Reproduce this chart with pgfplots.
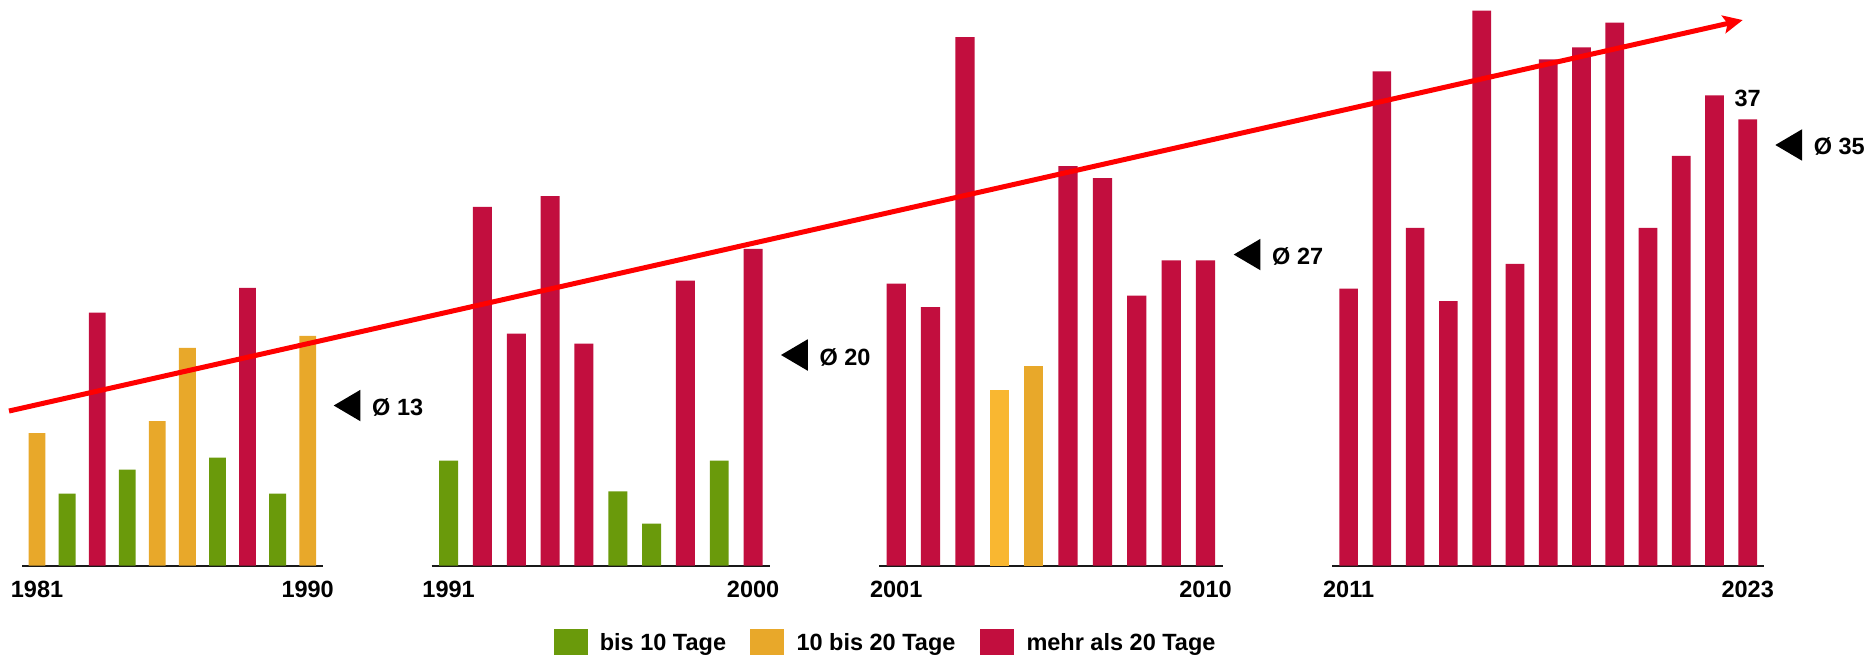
\documentclass[border=0pt]{standalone}
\usepackage{pgfplots}
\pgfplotsset{compat=1.18}
\usepackage{fontspec}
\setmainfont{Liberation Sans}
\usetikzlibrary{arrows.meta}

\definecolor{cgreen}{HTML}{6A9A0B}
\definecolor{corange}{HTML}{E8A82A}
\definecolor{cyellow}{HTML}{F9B731}
\definecolor{ccrimson}{HTML}{C20E3E}
\definecolor{cred}{HTML}{FF0000}

\newcommand{\lab}{\bfseries\fontsize{9.4}{11}\selectfont}

\pgfplotsset{
  grp/.style={
    scale only axis, height=226.28pt,
    anchor=south west,
    ymin=0, ymax=47.142,
    enlarge x limits=false, enlarge y limits=false,
    axis x line=bottom, axis y line=none,
    axis line style={-, line width=0.7pt, black!90},
    major tick length=0pt, ytick=\empty,
    xticklabel style={font=\lab, anchor=base, yshift=-12.8pt},
    ybar, bar width=0.56, bar shift=0pt,
    clip=false,
  },
}

\begin{document}
\begin{tikzpicture}[x=0.4pt, y=-0.4pt]
\useasboundingbox (0,0) rectangle (1870,655);

% ---------------- 1981-1990 (x = year - 1981) ----------------
\begin{axis}[grp, at={(8.8pt,-226.28pt)}, width=120.28pt,
  xmin=-0.5, xmax=9.5, xtick={0,9}, xticklabels={1981,1990}]
  \addplot[fill=corange, draw=none] coordinates {(0,11.05) (4,12.05) (5,18.15) (9,19.15)};
  \addplot[fill=cgreen, draw=none] coordinates {(1,6.0) (3,8.0) (6,9.0) (8,6.0)};
  \addplot[fill=ccrimson, draw=none] coordinates {(2,21.1) (7,23.15)};
  \fill[black] (axis cs:9.5,13.35) ++(4.4pt,0pt) -- ++(10.7pt,6.3pt) -- ++(0pt,-12.6pt) -- cycle;
  \node[anchor=base west, inner sep=0pt, font=\lab, xshift=19.6pt, yshift=-4pt] at (axis cs:9.5,13.35) {Ø 13};
\end{axis}

% ---------------- 1991-2000 ----------------
\begin{axis}[grp, at={(172.68pt,-226.28pt)}, width=135.32pt,
  xmin=-0.5, xmax=9.5, xtick={0,9}, xticklabels={1991,2000}]
  \addplot[fill=cgreen, draw=none] coordinates {(0,8.75) (5,6.2) (6,3.5) (8,8.75)};
  \addplot[fill=ccrimson, draw=none] coordinates {(1,29.9) (2,19.35) (3,30.8) (4,18.5) (7,23.75) (9,26.4)};
  \fill[black] (axis cs:9.5,17.56) ++(4.4pt,0pt) -- ++(10.7pt,6.3pt) -- ++(0pt,-12.6pt) -- cycle;
  \node[anchor=base west, inner sep=0pt, font=\lab, xshift=19.6pt, yshift=-4pt] at (axis cs:9.5,17.56) {Ø 20};
\end{axis}

% ---------------- 2001-2010 ----------------
\begin{axis}[grp, at={(351.6pt,-226.28pt)}, width=137.48pt,
  xmin=-0.5, xmax=9.5, xtick={0,9}, xticklabels={2001,2010}]
  \addplot[fill=ccrimson, draw=none] coordinates {(0,23.5) (1,21.55) (2,44.05) (5,33.3) (6,32.3) (7,22.5) (8,25.45) (9,25.45)};
  \addplot[fill=cyellow, draw=none] coordinates {(3,14.65)};
  \addplot[fill=corange, draw=none] coordinates {(4,16.65)};
  \fill[black] (axis cs:9.5,25.93) ++(4.4pt,0pt) -- ++(10.7pt,6.3pt) -- ++(0pt,-12.6pt) -- cycle;
  \node[anchor=base west, inner sep=0pt, font=\lab, xshift=19.6pt, yshift=-4pt] at (axis cs:9.5,25.93) {Ø 27};
\end{axis}

% ---------------- 2011-2023 ----------------
\begin{axis}[grp, at={(532.8pt,-226.28pt)}, width=172.92pt,
  xmin=-0.5, xmax=12.5, xtick={0,12}, xticklabels={2011,2023}]
  \addplot[fill=ccrimson, draw=none] coordinates {(0,23.1) (1,41.2) (2,28.15) (3,22.05) (4,46.25) (5,25.15) (6,42.2) (7,43.2) (8,45.25) (9,28.15) (10,34.15) (11,39.2) (12,37.2)};
  \node[anchor=base, inner sep=0pt, font=\lab, yshift=5.2pt] at (axis cs:12,37.2) {37};
  \fill[black] (axis cs:12.5,35.06) ++(4.4pt,0pt) -- ++(10.7pt,6.3pt) -- ++(0pt,-12.6pt) -- cycle;
  \node[anchor=base west, inner sep=0pt, font=\lab, xshift=19.6pt, yshift=-4pt] at (axis cs:12.5,35.06) {Ø 35};
\end{axis}

% ---------------- trend line (overlay, x in units of 10 px) ----------------
\begin{axis}[scale only axis, anchor=south west, at={(0pt,-262pt)},
  width=748pt, height=262pt, xmin=0, xmax=187, ymin=-7.442, ymax=47.142,
  hide axis, clip=false]
  \addplot[cred, line width=2pt, -{Stealth[length=7.8pt, width=7.2pt, inset=1.6pt]}]
    coordinates {(0.9,12.89) (174.27,45.47)};
\end{axis}

% ---------------- legend ----------------
\fill[cgreen] (554,629.3) rectangle (587.7,655);
\node[anchor=base west, inner sep=0pt, font=\lab] at (599.3,650.3) {bis 10 Tage};
\fill[corange] (750,629.3) rectangle (784,655);
\node[anchor=base west, inner sep=0pt, font=\lab] at (796,650.3) {10 bis 20 Tage};
\fill[ccrimson] (980,629.3) rectangle (1014,655);
\node[anchor=base west, inner sep=0pt, font=\lab] at (1026,650.3) {mehr als 20 Tage};
\end{tikzpicture}
\end{document}
